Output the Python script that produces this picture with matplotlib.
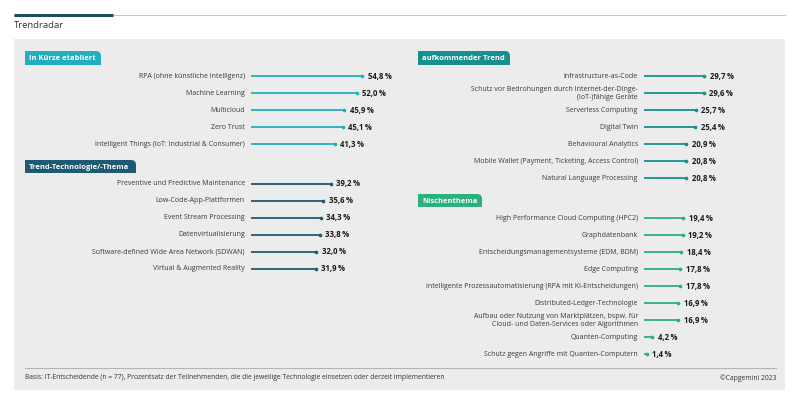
import matplotlib
matplotlib.use("Agg")
import matplotlib.pyplot as plt
from matplotlib.path import Path
from matplotlib.patches import PathPatch, Rectangle

plt.rcParams['font.family'] = ['Open Sans', 'DejaVu Sans']

# --- data ---
etabliert_labels = ["RPA (ohne künstliche Intelligenz)", "Machine Learning", "Multicloud",
                    "Zero Trust", "Intelligent Things (IoT: Industrial & Consumer)"]
etabliert_values = [54.8, 52.0, 45.9, 45.1, 41.3]

trend_labels = ["Preventive und Predictive Maintenance", "Low-Code-App-Plattformen",
                "Event Stream Processing", "Datenvirtualisierung",
                "Software-defined Wide Area Network (SDWAN)", "Virtual & Augmented Reality"]
trend_values = [39.2, 35.6, 34.3, 33.8, 32.0, 31.9]

aufk_labels = ["Infrastructure-as-Code",
               "Schutz vor Bedrohungen durch Internet-der-Dinge-\n(IoT-)fähige Geräte",
               "Serverless Computing", "Digital Twin", "Behavioural Analytics",
               "Mobile Wallet (Payment, Ticketing, Access Control)",
               "Natural Language Processing"]
aufk_values = [29.7, 29.6, 25.7, 25.4, 20.9, 20.8, 20.8]

nische_labels = ["High Performance Cloud Computing (HPC2)", "Graphdatenbank",
                 "Entscheidungsmanagementsysteme (EDM, BDM)", "Edge Computing",
                 "intelligente Prozessautomatisierung (RPA mit KI-Entscheidungen)",
                 "Distributed-Ledger-Technologie",
                 "Aufbau oder Nutzung von Marktplätzen, bspw. für\nCloud- und Daten-Services oder Algorithmen",
                 "Quanten-Computing", "Schutz gegen Angriffe mit Quanten-Computern"]
nische_values = [19.4, 19.2, 18.4, 17.8, 17.8, 16.9, 16.9, 4.2, 1.4]

W, H = 800, 406
fig = plt.figure(figsize=(W / 100, H / 100), dpi=100)
fig.patch.set_facecolor("white")

# background axes in pixel coordinates for the frame
bg = fig.add_axes([0, 0, 1, 1])
bg.set_xlim(0, W)
bg.set_ylim(H, 0)
bg.axis("off")

bg.plot([14, 785], [16, 16], color="#b9c9cf", lw=0.8)
bg.plot([14, 113], [16, 16], color="#1d4e5f", lw=2.2, solid_capstyle="butt")
bg.text(14, 26, "Trendradar", fontsize=6.8, color="#333333", va="center", ha="left")

bg.add_patch(Rectangle((14, 40), 771, 351, facecolor="#ececec", edgecolor="none"))
bg.plot([25, 776], [369, 369], color="#b5b5b5", lw=0.8)
bg.text(25, 378, "Basis: IT-Entscheidende (n = 77), Prozentsatz der Teilnehmenden, die die jeweilige "
        "Technologie einsetzen oder derzeit implementieren",
        fontsize=4.9, color="#333333", va="center", ha="left")
bg.text(776, 378, "©Capgemini 2023", fontsize=4.9, color="#333333", va="center", ha="right")


def header(x0, y0, w, h, text, color):
    r = 5
    verts = [(x0, y0 + h), (x0, y0), (x0 + w - r, y0), (x0 + w, y0), (x0 + w, y0 + r),
             (x0 + w, y0 + h), (x0, y0 + h)]
    codes = [Path.MOVETO, Path.LINETO, Path.LINETO, Path.CURVE3, Path.CURVE3,
             Path.LINETO, Path.CLOSEPOLY]
    bg.add_patch(PathPatch(Path(verts, codes), facecolor=color, edgecolor="none"))
    bg.text(x0 + 4, y0 + h / 2, text, fontsize=5.4, fontweight="bold",
            color="white", va="center", ha="left")


header(25, 52, 76, 14, "In Kürze etabliert", "#22aebf")
header(25, 161, 111, 13, "Trend-Technologie/-Thema", "#1e5a72")
header(418, 52, 92, 14, "aufkommender Trend", "#178f8f")
header(418, 195, 64, 13, "Nischenthema", "#2bb07e")


def col_axes(x_zero, px_per_pct):
    ax = fig.add_axes([x_zero / W, 0, 60 * px_per_pct / W, 1])
    ax.set_xlim(0, 60)
    ax.set_ylim(H, 0)
    ax.axis("off")
    ax.patch.set_alpha(0)
    return ax


def draw_group(ax, labels, values, y_start, color, step=17):
    ys = [y_start + step * i for i in range(len(values))]
    ax.hlines(ys, 0, values, color=color, lw=1.3)
    ax.scatter(values, ys, s=7, color=color, zorder=3, linewidths=0)
    for lab, v, y in zip(labels, values, ys):
        ax.annotate(lab, (0, y), xytext=(-4.5, 0.4), textcoords="offset points",
                    ha="right", va="center", fontsize=5.0, color="#3a3a3a",
                    linespacing=1.05, annotation_clip=False)
        ax.annotate(f"{v:.1f}".replace(".", ",") + "\u2009%", (v, y), xytext=(4, 0.4),
                    textcoords="offset points", ha="left", va="center",
                    fontsize=5.6, fontweight="bold", color="#1a1a1a",
                    annotation_clip=False)


left = col_axes(251, 2.03)
draw_group(left, etabliert_labels, etabliert_values, 77, "#22aebf")
draw_group(left, trend_labels, trend_values, 184.5, "#1e5a72")

right = col_axes(644, 2.02)
draw_group(right, aufk_labels, aufk_values, 77, "#178f8f")
draw_group(right, nische_labels, nische_values, 219, "#2bb07e")

fig.savefig("out.png", dpi=100, facecolor="white")
